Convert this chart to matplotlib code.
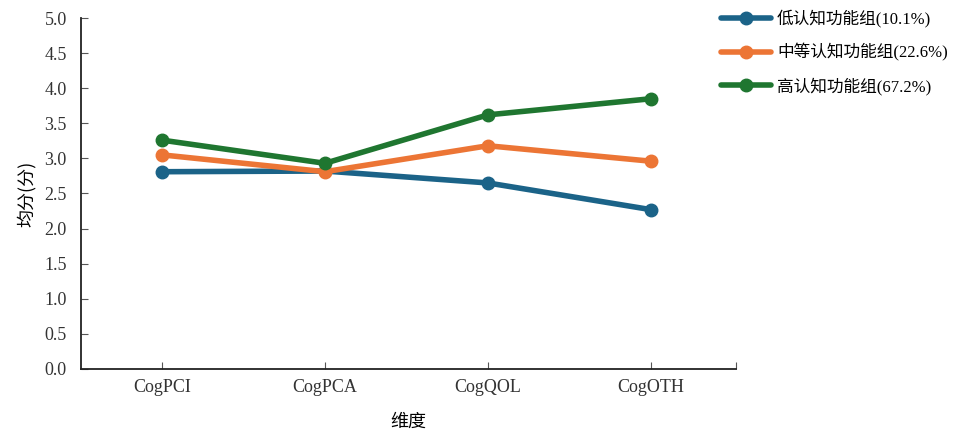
import matplotlib.pyplot as plt

plt.rcParams['font.family'] = ['Liberation Serif', 'Noto Sans CJK SC']

dims = ['CogPCI', 'CogPCA', 'CogQOL', 'CogOTH']
low = [2.81, 2.82, 2.65, 2.27]
mid = [3.05, 2.81, 3.18, 2.96]
high = [3.26, 2.93, 3.62, 3.85]
names = ['低认知功能组(10.1%)', '中等认知功能组(22.6%)', '高认知功能组(67.2%)']
colors = ['#1b6388', '#ec7535', '#1f7630']

fig = plt.figure(figsize=(9.59, 4.29), dpi=100)
ax = fig.add_axes([0.084, 0.14, 0.683, 0.818])

x = range(len(dims))
for vals, name, c in zip([low, mid, high], names, colors):
    ax.plot(x, vals, color=c, lw=4, marker='o', ms=9, label=name,
            solid_capstyle='round')

ax.set_xlim(-0.5, 3.52)
ax.set_ylim(0, 5.0)
ax.set_yticks([i * 0.5 for i in range(11)])
ax.set_yticklabels([f'{i * 0.5:.1f}' for i in range(11)])
ax.set_xticks(list(x) + [3.52])
ax.set_xticklabels(dims + [''])
ax.tick_params(axis='both', direction='in', length=5, width=0.8, color='#555555',
               labelsize=13, labelcolor='#333333', pad=7)
ax.tick_params(axis='y', pad=10)
for s in ['top', 'right']:
    ax.spines[s].set_visible(False)
for s in ['left', 'bottom']:
    ax.spines[s].set_linewidth(1.3)
    ax.spines[s].set_color('#222222')

ax.set_ylabel('均分(分)', fontsize=13, family=['Noto Sans CJK SC'], labelpad=6)
ax.set_xlabel('维度', fontsize=13, family=['Noto Sans CJK SC'], labelpad=12)

leg = ax.legend(loc='upper left', bbox_to_anchor=(0.955, 1.067), frameon=False,
                prop={'family': ['Liberation Serif', 'Noto Sans CJK SC'], 'size': 12},
                handlelength=3.0, labelspacing=0.95, handletextpad=0.35)

fig.savefig('out.png', dpi=100)
